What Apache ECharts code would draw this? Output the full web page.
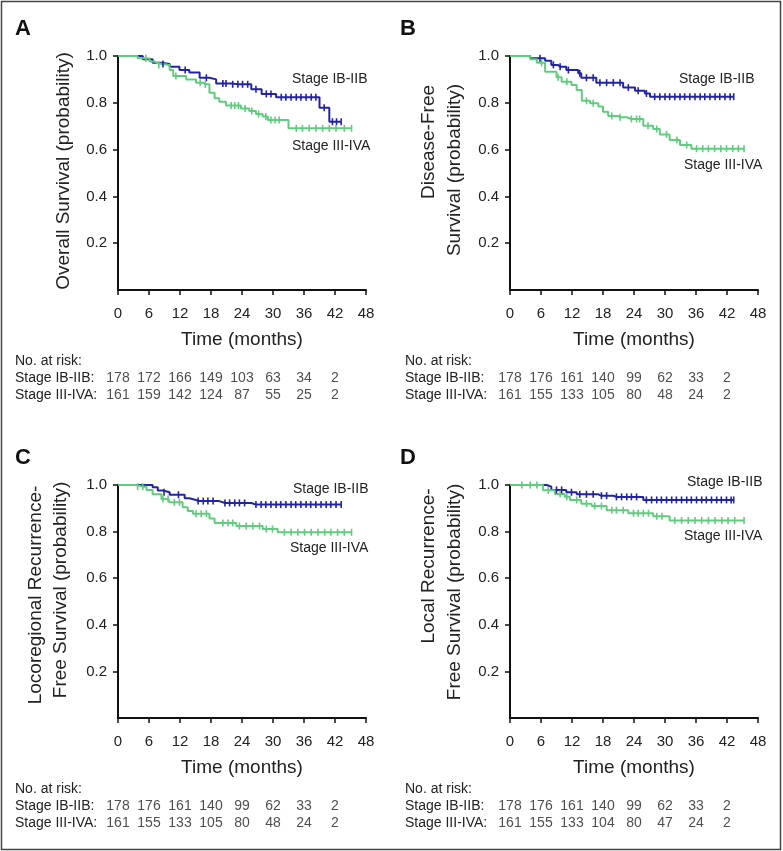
<!DOCTYPE html>
<html>
<head>
<meta charset="utf-8">
<script src="https://cdn.jsdelivr.net/npm/echarts@6/dist/echarts.min.js"></script>
<style>
  html, body { margin: 0; padding: 0; background: #fff; }
  #main { width: 783px; height: 851px; }
</style>
</head>
<body>
<div id="main"></div>
<script>
// tick labels
const xTicks = [0, 6, 12, 18, 24, 30, 36, 42, 48];
const yTicks = [0.2, 0.4, 0.6, 0.8, 1.0];
const riskMonths = [0, 6, 12, 18, 24, 30, 36, 42];
const groups = ['Stage IB-IIB', 'Stage III-IVA'];

// number at risk
const riskA_IB = [178, 172, 166, 149, 103, 63, 34, 2];
const riskA_III = [161, 159, 142, 124, 87, 55, 25, 2];
const riskB_IB = [178, 176, 161, 140, 99, 62, 33, 2];
const riskB_III = [161, 155, 133, 105, 80, 48, 24, 2];
const riskC_IB = [178, 176, 161, 140, 99, 62, 33, 2];
const riskC_III = [161, 155, 133, 105, 80, 48, 24, 2];
const riskD_IB = [178, 176, 161, 140, 99, 62, 33, 2];
const riskD_III = [161, 155, 133, 104, 80, 47, 24, 2];

// KM steps: [month, survival after the drop]; censors: months
const osIB = [[0, 1], [4.8, 0.986], [6.7, 0.971], [8.4, 0.966], [10, 0.954], [11.9, 0.94], [13.8, 0.93], [15.8, 0.907], [17.7, 0.9], [19, 0.883], [21.9, 0.879], [25.8, 0.858], [27.8, 0.838], [30.6, 0.824], [39, 0.779], [40.9, 0.719]];
const osIBCens = [8.7, 13.0, 17.1, 20.3, 20.9, 22.2, 23.2, 24.1, 25.1, 26.7, 28.7, 29.6, 31.6, 32.5, 33.5, 34.5, 35.4, 36.4, 37.4, 38.3, 39.9, 41.5, 42.3, 43.2];
const osIII = [[0, 1], [3.8, 0.99], [6.1, 0.976], [7.1, 0.969], [7.7, 0.962], [10, 0.94], [10.7, 0.915], [13.2, 0.9], [15.1, 0.886], [16.5, 0.879], [17.7, 0.843], [18.7, 0.819], [19.6, 0.805], [20.9, 0.788], [23.8, 0.776], [25.4, 0.765], [26.7, 0.752], [28, 0.741], [29, 0.726], [33, 0.691]];
const osIIICens = [5.4, 7.9, 11.2, 15.9, 16.9, 21.9, 22.6, 23.3, 24.6, 25.9, 27.2, 28.6, 29.6, 30.4, 31.2, 34.5, 35.7, 37.0, 38.3, 39.6, 40.9, 42.2, 43.8, 45.2];

const dfsIB = [[0, 1], [3.9, 0.99], [6.8, 0.98], [8, 0.962], [9.3, 0.954], [10.9, 0.94], [13.2, 0.926], [13.8, 0.907], [16.7, 0.886], [21.9, 0.865], [24.2, 0.852], [26.1, 0.84], [27.1, 0.826]];
const dfsIBCens = [5.8, 8.4, 9.7, 11.3, 13.5, 14.8, 16.1, 17.4, 18.7, 20.0, 21.3, 22.9, 24.8, 26.4, 28.0, 29.0, 30.0, 30.9, 31.9, 32.9, 33.8, 34.8, 35.8, 36.8, 37.7, 38.7, 39.7, 40.6, 41.6, 42.6, 43.3];
const dfsIII = [[0, 1], [3.9, 0.986], [5.2, 0.971], [6.8, 0.933], [9, 0.909], [10, 0.89], [11.9, 0.876], [12.9, 0.855], [13.9, 0.809], [15.5, 0.798], [17.1, 0.784], [18, 0.762], [19, 0.744], [20.9, 0.738], [22.6, 0.731], [25.8, 0.702], [27.7, 0.688], [29, 0.665], [30.9, 0.641], [32.9, 0.62], [35.1, 0.604]];
const dfsIIICens = [6.1, 9.3, 11.0, 14.8, 16.1, 19.7, 21.3, 23.5, 24.5, 25.1, 26.7, 28.4, 30.3, 32.3, 34.2, 36.1, 37.3, 38.4, 39.6, 40.8, 41.9, 43.1, 44.2, 45.3];

const lrfsIB = [[0, 1], [6.7, 0.99], [7.7, 0.976], [8.7, 0.969], [10, 0.958], [12.9, 0.943], [13.8, 0.936], [15.1, 0.931], [19.6, 0.923], [25.8, 0.916]];
const lrfsIBCens = [8.9, 11.7, 15.5, 16.5, 17.4, 18.4, 20.7, 21.6, 22.6, 23.5, 24.5, 26.7, 27.7, 28.6, 29.6, 30.6, 31.5, 32.5, 33.5, 34.4, 35.4, 36.4, 37.3, 38.3, 39.3, 40.3, 41.2, 42.2, 43.2];
const lrfsIII = [[0, 1], [3.5, 0.993], [5.5, 0.979], [6.7, 0.96], [8.4, 0.94], [10, 0.926], [12.5, 0.905], [13.5, 0.888], [14.5, 0.877], [17.7, 0.856], [18.7, 0.837], [22.9, 0.824], [28, 0.811], [30.9, 0.797]];
const lrfsIIICens = [3.8, 4.8, 8.7, 9.7, 10.9, 11.9, 15.1, 16.1, 17.1, 20.3, 21.3, 22.2, 23.5, 24.8, 26.1, 27.4, 28.7, 29.9, 32.2, 33.5, 34.8, 36.1, 37.4, 38.7, 40.0, 41.2, 42.5, 43.8, 45.2];

const localIB = [[0, 1], [7.1, 0.993], [8, 0.979], [10.9, 0.969], [12.9, 0.96], [17.1, 0.954], [20, 0.949], [25.8, 0.936]];
const localIBCens = [9.0, 10.0, 11.9, 13.5, 14.8, 16.1, 17.7, 18.7, 20.6, 21.6, 22.6, 23.5, 24.5, 26.4, 27.4, 28.4, 29.3, 30.3, 31.3, 32.2, 33.2, 34.2, 35.1, 36.1, 37.1, 38.0, 39.0, 40.0, 40.9, 41.9, 42.8, 43.3];
const localIII = [[0, 1], [6.4, 0.977], [8.7, 0.961], [10.6, 0.95], [11.6, 0.936], [13.8, 0.92], [15.8, 0.91], [18.7, 0.892], [22.9, 0.879], [27.7, 0.866], [30.9, 0.848]];
const localIIICens = [2.3, 3.9, 5.2, 7.4, 9.7, 11.0, 12.9, 14.8, 16.4, 17.7, 19.7, 20.6, 21.9, 23.9, 24.8, 25.8, 26.8, 28.4, 29.4, 31.9, 33.2, 34.5, 35.8, 37.1, 38.4, 39.7, 41.0, 42.2, 43.5, 45.3];

const BLUE = '#2323a6';
const GREEN = '#62cb7f';
const FONT = 'Liberation Sans, Arial, Helvetica, sans-serif';

// merge steps with censor ticks; censor ticks sit on the curve
function km(steps, censors) {
  const pts = steps.map(p => ({ value: [p[0], p[1]], step: true }));
  censors.forEach(c => {
    let s = steps[0][1];
    steps.forEach(p => { if (p[0] <= c) s = p[1]; });
    pts.push({ value: [c, s] });
  });
  pts.sort((a, b) => (a.value[0] - b.value[0]) || ((a.step ? 0 : 1) - (b.step ? 0 : 1)));
  return pts.map(p => p.step ? { value: p.value, symbol: 'none' } : { value: p.value });
}

const panels = [
  { letter: 'A', left: 118, top: 56, h: 234, title: ['Overall Survival (probability)'], tx: [64], ty: [171],
    curves: [[osIB, osIBCens], [osIII, osIIICens]], risk: [riskA_IB, riskA_III],
    labels: [[292, 79], [292, 146]] },
  { letter: 'B', left: 510, top: 56, h: 234, title: ['Disease-Free', 'Survival (probability)'], tx: [429, 455], ty: [142, 170],
    curves: [[dfsIB, dfsIBCens], [dfsIII, dfsIIICens]], risk: [riskB_IB, riskB_III],
    labels: [[679, 79], [684, 165]] },
  { letter: 'C', left: 118, top: 485, h: 233, title: ['Locoregional Recurrence-', 'Free Survival (probability)'], tx: [36, 61], ty: [595, 590],
    curves: [[lrfsIB, lrfsIBCens], [lrfsIII, lrfsIIICens]], risk: [riskC_IB, riskC_III],
    labels: [[293, 489], [290, 548]] },
  { letter: 'D', left: 510, top: 485, h: 233, title: ['Local Recurrence-', 'Free Survival (probability)'], tx: [429, 455], ty: [566, 592],
    curves: [[localIB, localIBCens], [localIII, localIIICens]], risk: [riskD_IB, riskD_III],
    labels: [[687, 482], [684, 536]] }
];

const grid = [], xAxis = [], yAxis = [], series = [], graphic = [];
const axisLine = { show: true, onZero: false, lineStyle: { color: '#111', width: 2 } };
const axisTick = { show: true, length: 5, lineStyle: { color: '#111', width: 1.5 } };

panels.forEach((p, i) => {
  const bottom = p.top + p.h;
  const right = p.left > 300;
  // KM plot
  grid.push({ left: p.left, top: p.top, width: 248, height: p.h });
  xAxis.push({
    gridIndex: 2 * i, type: 'value', min: 0, max: 48, interval: 6,
    axisLine, axisTick, splitLine: { show: false },
    axisLabel: { customValues: xTicks, fontSize: 15, color: '#222', margin: 16, fontFamily: FONT },
    name: 'Time (months)', nameLocation: 'middle', nameGap: 40,
    nameTextStyle: { fontSize: 19, color: '#222', fontFamily: FONT }
  });
  yAxis.push({
    gridIndex: 2 * i, type: 'value', min: 0, max: 1, interval: 0.2,
    axisLine, splitLine: { show: false },
    axisTick: Object.assign({ customValues: yTicks }, axisTick),
    axisLabel: { customValues: yTicks, formatter: v => v.toFixed(1), fontSize: 15, color: '#222', margin: 11, fontFamily: FONT }
  });
  p.curves.forEach((c, k) => {
    const color = k === 0 ? BLUE : GREEN;
    series.push({
      type: 'line', name: groups[k], step: 'end', xAxisIndex: 2 * i, yAxisIndex: 2 * i,
      data: km(c[0], c[1]), symbol: 'rect', symbolSize: [1.6, 7],
      showSymbol: true, showAllSymbol: true,
      lineStyle: { color, width: 2 }, itemStyle: { color, borderWidth: 0 },
      emphasis: { disabled: true }, silent: true
    });
  });

  // number at risk table, on the same month scale
  const tableX = right ? 405 : 15;
  grid.push({ left: p.left, top: bottom + 80, width: 248, height: 34 });
  xAxis.push({ gridIndex: 2 * i + 1, type: 'value', min: 0, max: 48, show: false });
  yAxis.push({
    gridIndex: 2 * i + 1, type: 'category', inverse: true, data: groups.map(g => g + ':'),
    axisLine: { show: false }, axisTick: { show: false },
    axisLabel: { interval: 0, align: 'left', margin: p.left - tableX, fontSize: 14, color: '#222', fontFamily: FONT }
  });
  const rows = [];
  p.risk.forEach((arr, k) => arr.forEach((n, j) => rows.push([riskMonths[j], groups[k] + ':', n])));
  series.push({
    type: 'scatter', xAxisIndex: 2 * i + 1, yAxisIndex: 2 * i + 1, data: rows,
    symbolSize: 0, silent: true,
    label: { show: true, position: 'inside', formatter: q => q.value[2], fontSize: 14, color: '#222', fontFamily: FONT }
  });
  graphic.push({ type: 'text', x: tableX, y: bottom + 71, style: { text: 'No. at risk:', font: '14px ' + FONT, fill: '#222', verticalAlign: 'middle' } });

  // text
  graphic.push({ type: 'text', x: right ? 400 : 15, y: p.top - 27, style: { text: p.letter, font: 'bold 22px ' + FONT, fill: '#111', verticalAlign: 'middle' } });
  p.title.forEach((t, k) => graphic.push({
    type: 'text', x: p.tx[k], y: p.ty[k], rotation: Math.PI / 2,
    style: { text: t, font: '19px ' + FONT, fill: '#222', align: 'center', verticalAlign: 'middle' }
  }));
  groups.forEach((g, k) => graphic.push({
    type: 'text', x: p.labels[k][0], y: p.labels[k][1],
    style: { text: g, font: '14px ' + FONT, fill: '#222', verticalAlign: 'middle' }
  }));
});

graphic.push({ type: 'rect', shape: { x: 1.5, y: 1.5, width: 779, height: 848 }, style: { fill: 'none', stroke: '#444', lineWidth: 1.5 } });

const chart = echarts.init(document.getElementById('main'));
chart.setOption({ animation: false, grid, xAxis, yAxis, series, graphic });
</script>
</body>
</html>
